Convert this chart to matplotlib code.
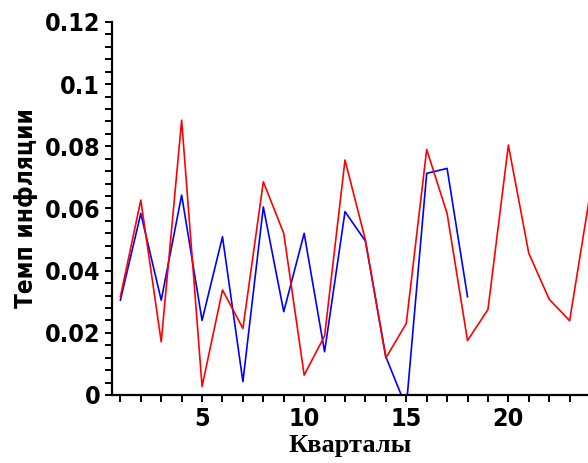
import matplotlib
matplotlib.use("Agg")
import matplotlib.pyplot as plt
from matplotlib.ticker import MultipleLocator, FixedLocator

# quarters and inflation rates
quarters_blue = [1, 2, 3, 4, 5, 6, 7, 8, 9, 10, 11, 12, 13, 14, 15, 16, 17, 18]
blue_values = [0.0305, 0.0584, 0.0305, 0.0643, 0.024, 0.0509, 0.0043, 0.0605, 0.0268,
               0.052, 0.0139, 0.059, 0.0495, 0.0123, -0.004, 0.0713, 0.0729, 0.0316]

quarters_red = list(range(1, 25))
red_values = [0.0316, 0.0627, 0.0171, 0.0884, 0.0027, 0.0338, 0.0214, 0.0686, 0.052,
              0.0064, 0.019, 0.0756, 0.0498, 0.0119, 0.023, 0.079, 0.0584, 0.0175,
              0.0275, 0.0804, 0.0456, 0.0308, 0.0239, 0.0646]

y_ticks = [0, 0.02, 0.04, 0.06, 0.08, 0.1, 0.12]
y_tick_labels = ["0", "0.02", "0.04", "0.06", "0.08", "0.1", "0.12"]
x_ticks = [5, 10, 15, 20]

fig = plt.figure(figsize=(5.88, 4.63), dpi=100)
ax = fig.add_axes([0.1905, 0.1469, 0.8095, 0.8056])

ax.plot(quarters_blue, blue_values, color="#0000ff", lw=1.2)
ax.plot(quarters_red, red_values, color="#ff0000", lw=1.2)

ax.set_xlim(0.59, 23.9)
ax.set_ylim(0, 0.12)

for s in ["top", "right"]:
    ax.spines[s].set_visible(False)
for s in ["left", "bottom"]:
    ax.spines[s].set_linewidth(1.6)

ax.xaxis.set_major_locator(FixedLocator(x_ticks))
ax.xaxis.set_minor_locator(MultipleLocator(1))
ax.set_yticks(y_ticks)
ax.set_yticklabels(y_tick_labels)
ax.yaxis.set_minor_locator(MultipleLocator(0.004))
ax.tick_params(which="both", direction="out", width=1.4, length=5, color="black")

tick_font = dict(family="DejaVu Sans", weight="bold", stretch="condensed", size=18)
for lab in ax.get_xticklabels() + ax.get_yticklabels():
    lab.set_fontproperties(matplotlib.font_manager.FontProperties(**tick_font))

ax.set_ylabel("Темп инфляции", fontsize=17.5, fontweight="bold", family="DejaVu Sans",
              fontstretch="condensed", labelpad=5)
ax.set_xlabel("Кварталы", fontsize=19, fontweight="bold", family="Liberation Serif",
              labelpad=2)

fig.savefig("out.png", dpi=100)
